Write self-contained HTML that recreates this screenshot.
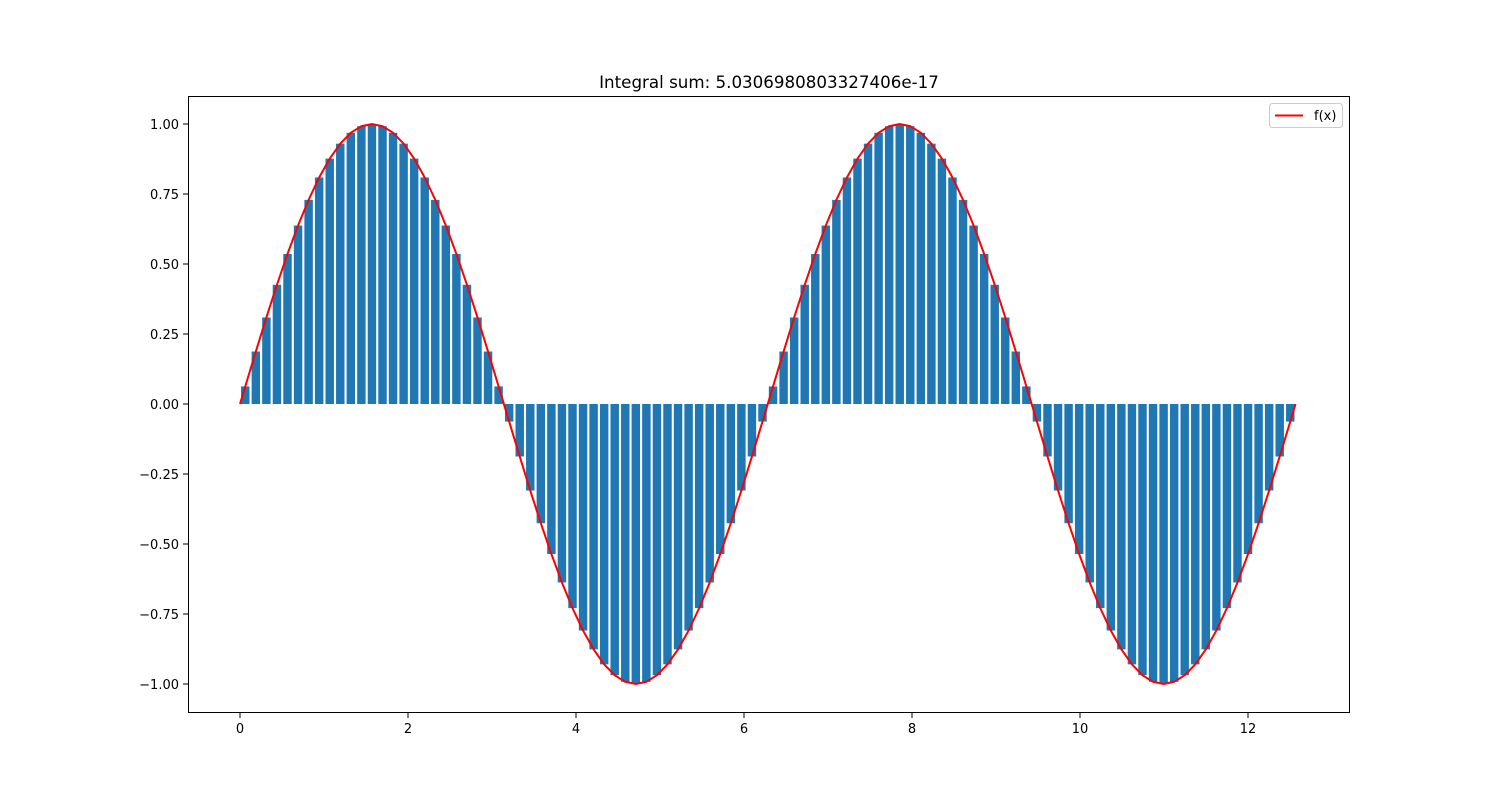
<!DOCTYPE html>
<html><head><meta charset="utf-8"><style>
body{margin:0;background:#fff;}
svg text{font-family:"DejaVu Sans","Liberation Sans",sans-serif;}
</style></head><body>
<svg id="chart" width="1500" height="800" xmlns="http://www.w3.org/2000/svg">
<rect width="1500" height="800" fill="#fff"/>
<text x="769" y="88" font-size="16.7" text-anchor="middle">Integral sum: 5.0306980803327406e-17</text>
<g id="bars"></g>
<g id="line"></g>
<rect x="188.5" y="96.5" width="1161" height="616" fill="none" stroke="#000" stroke-width="1"/>
<g id="xticks"></g>
<g id="yticks"></g>
<g>
<rect x="1269.5" y="103.5" width="73" height="24" rx="3" fill="#fff" stroke="#ccc"/>
<line x1="1275" y1="115.5" x2="1303" y2="115.5" stroke="red" stroke-width="2"/>
<text x="1314" y="120" font-size="13">f(x)</text>
</g>
</svg>
<script>
const values=[0.0628,0.1874,0.3090,0.4258,0.5358,0.6374,0.7290,0.8090,0.8763,0.9298,0.9686,0.9921,1.0,0.9921,0.9686,0.9298,0.8763,0.8090,0.7290,0.6374,0.5358,0.4258,0.3090,0.1874,0.0628,
-0.0628,-0.1874,-0.3090,-0.4258,-0.5358,-0.6374,-0.7290,-0.8090,-0.8763,-0.9298,-0.9686,-0.9921,-1.0,-0.9921,-0.9686,-0.9298,-0.8763,-0.8090,-0.7290,-0.6374,-0.5358,-0.4258,-0.3090,-0.1874,-0.0628,
0.0628,0.1874,0.3090,0.4258,0.5358,0.6374,0.7290,0.8090,0.8763,0.9298,0.9686,0.9921,1.0,0.9921,0.9686,0.9298,0.8763,0.8090,0.7290,0.6374,0.5358,0.4258,0.3090,0.1874,0.0628,
-0.0628,-0.1874,-0.3090,-0.4258,-0.5358,-0.6374,-0.7290,-0.8090,-0.8763,-0.9298,-0.9686,-0.9921,-1.0,-0.9921,-0.9686,-0.9298,-0.8763,-0.8090,-0.7290,-0.6374,-0.5358,-0.4258,-0.3090,-0.1874,-0.0628];
const xStart=0, xEnd=12.566;
const xTicks=[0,2,4,6,8,10,12];
const yTicks=[-1.00,-0.75,-0.50,-0.25,0.00,0.25,0.50,0.75,1.00];
const NS="http://www.w3.org/2000/svg";
const X=v=>240+v*84, Y=v=>404-v*280;
const dx=(xEnd-xStart)/values.length;
const bars=document.getElementById('bars');
const xs=[], ys=[];
xs.push(xStart); ys.push(0);
values.forEach((v,i)=>{
  const cx=xStart+(i+0.5)*dx;
  xs.push(cx); ys.push(v);
  const r=document.createElementNS(NS,'rect');
  
  
  const w=0.8*dx;
  r.setAttribute('x',X(cx-w/2));
  r.setAttribute('width',w*84);
  r.setAttribute('y',Math.min(Y(v),Y(0)));
  r.setAttribute('height',Math.abs(Y(v)-Y(0)));
  r.setAttribute('fill','#1f77b4');
  bars.appendChild(r);
});
xs.push(xEnd); ys.push(0);
const p=document.createElementNS(NS,'polyline');


p.setAttribute('points',xs.map((x,i)=>X(x)+','+Y(ys[i])).join(' '));
p.setAttribute('fill','none');p.setAttribute('stroke','red');p.setAttribute('stroke-width','2');
document.getElementById('line').appendChild(p);
const xg=document.getElementById('xticks');
xTicks.forEach(t=>{
  const l=document.createElementNS(NS,'line');
  
  
  l.setAttribute('x1',X(t));l.setAttribute('x2',X(t));l.setAttribute('y1',713);l.setAttribute('y2',718);l.setAttribute('stroke','#000');
  xg.appendChild(l);
  const tx=document.createElementNS(NS,'text');
  
  
  tx.setAttribute('x',X(t));tx.setAttribute('y',733);tx.setAttribute('font-size','13');tx.setAttribute('text-anchor','middle');
  tx.textContent=t;xg.appendChild(tx);
});
const yg=document.getElementById('yticks');
yTicks.forEach(t=>{
  const l=document.createElementNS(NS,'line');
  
  
  l.setAttribute('x1',183);l.setAttribute('x2',188);l.setAttribute('y1',Y(t));l.setAttribute('y2',Y(t));l.setAttribute('stroke','#000');
  yg.appendChild(l);
  const tx=document.createElementNS(NS,'text');
  
  
  tx.setAttribute('x',179);tx.setAttribute('y',Y(t)+5);tx.setAttribute('font-size','13');tx.setAttribute('text-anchor','end');
  tx.textContent=(t<0?'\u2212':'')+Math.abs(t).toFixed(2);yg.appendChild(tx);
});
</script>
</body></html>
